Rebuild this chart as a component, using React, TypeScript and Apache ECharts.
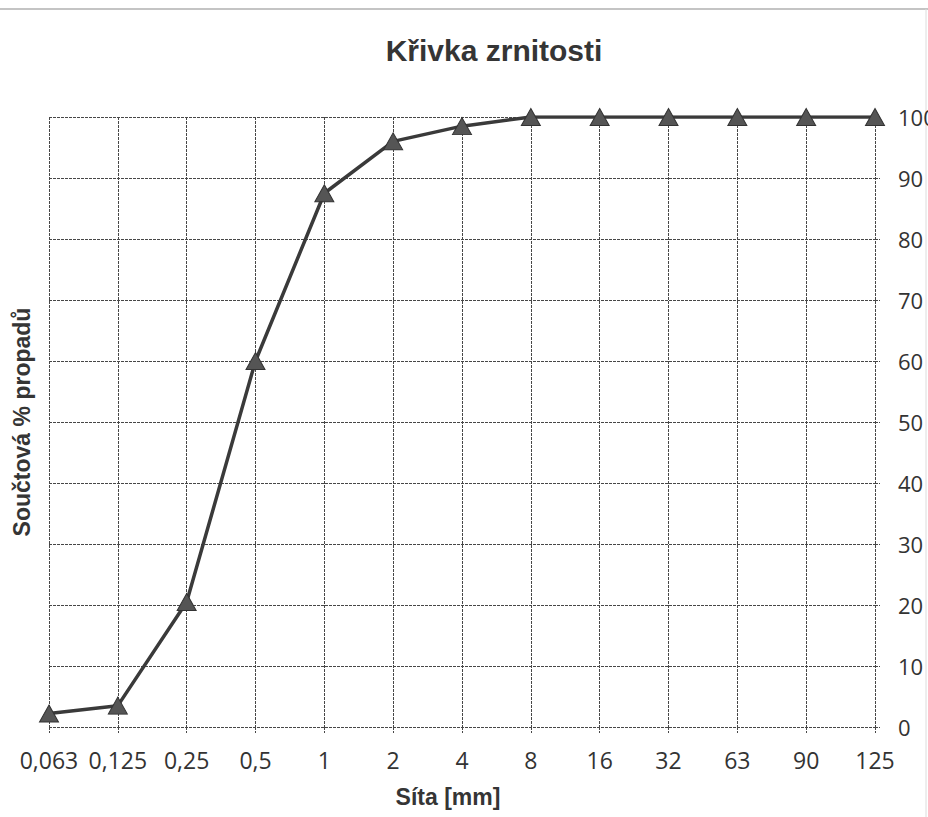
import React, { useEffect, useRef } from "react";
import * as echarts from "echarts";

const sieves = ["0,063", "0,125", "0,25", "0,5", "1", "2", "4", "8", "16", "32", "63", "90", "125"];
const passing = [2.2, 3.5, 20.5, 60, 87.5, 96, 98.5, 100, 100, 100, 100, 100, 100];
const titleText = "Křivka zrnitosti";
const xName = "Síta [mm]";
const yName = "Součtová % propadů";

export default function App() {
  const ref = useRef<HTMLDivElement>(null);
  useEffect(() => {
    if (!ref.current) return;
    const chart = echarts.init(ref.current, null, { renderer: "svg" });
    const gridLine = { color: "#474747", width: 1, type: [3, 1] as any };
    chart.setOption({
      animation: false,
      backgroundColor: "#ffffff",
      title: {
        text: titleText,
        left: 489,
        top: 30,
        textAlign: "center",
        textStyle: { fontFamily: "Liberation Sans", fontWeight: "bold", fontSize: 30, color: "#353535" },
      },
      grid: { left: 49, right: 53, top: 117, bottom: 90, containLabel: false, outerBoundsMode: "none" } as any,
      xAxis: {
        type: "category",
        data: sieves,
        boundaryGap: false,
        name: xName,
        nameLocation: "middle",
        nameGap: 58,
        nameTextStyle: {
          fontFamily: "Liberation Sans",
          fontWeight: "bold",
          fontSize: 23,
          color: "#353535",
          padding: [0, 28, 0, 0],
        },
        axisLine: { show: false },
        axisTick: { show: true, length: 6, interval: 0, lineStyle: gridLine },
        axisLabel: { fontFamily: "Open Sans", fontSize: 23, color: "#333333", margin: 21, interval: 0 },
        splitLine: { show: true, interval: 0, lineStyle: gridLine },
      },
      yAxis: [
        {
          type: "value",
          position: "right",
          min: 0,
          max: 100,
          interval: 10,
          axisLine: { show: false },
          axisTick: { show: true, length: 5, lineStyle: gridLine },
          axisLabel: { fontFamily: "Open Sans", fontSize: 22, color: "#333333", margin: 23 },
          splitLine: { show: true, lineStyle: gridLine },
        },
        {
          type: "value",
          position: "left",
          min: 0,
          max: 100,
          interval: 10,
          name: yName,
          nameLocation: "middle",
          nameGap: 16,
          nameRotate: 90,
          nameTextStyle: { fontFamily: "Liberation Sans", fontWeight: "bold", fontSize: 23, color: "#353535" },
          axisLine: { show: false },
          axisTick: { show: false },
          axisLabel: { show: false },
          splitLine: { show: false },
        },
      ],
      graphic: [
        { type: "line", shape: { x1: 0, y1: 9, x2: 928, y2: 9 }, style: { stroke: "#c4c4c4", lineWidth: 2 } },
        { type: "line", shape: { x1: 926, y1: 9, x2: 926, y2: 817 }, style: { stroke: "#dcdcdc", lineWidth: 1 } },
      ],
      series: [
        {
          type: "line",
          data: passing,
          yAxisIndex: 0,
          symbol: "triangle",
          symbolSize: [19, 17],
          itemStyle: { color: "#555555", borderColor: "#333333", borderWidth: 1 },
          lineStyle: { color: "#3a3a3a", width: 3.5 },
          z: 5,
        },
      ],
    });
    return () => chart.dispose();
  }, []);
  return <div ref={ref} style={{ position: "fixed", left: 0, top: 0, width: 928, height: 817 }} />;
}
